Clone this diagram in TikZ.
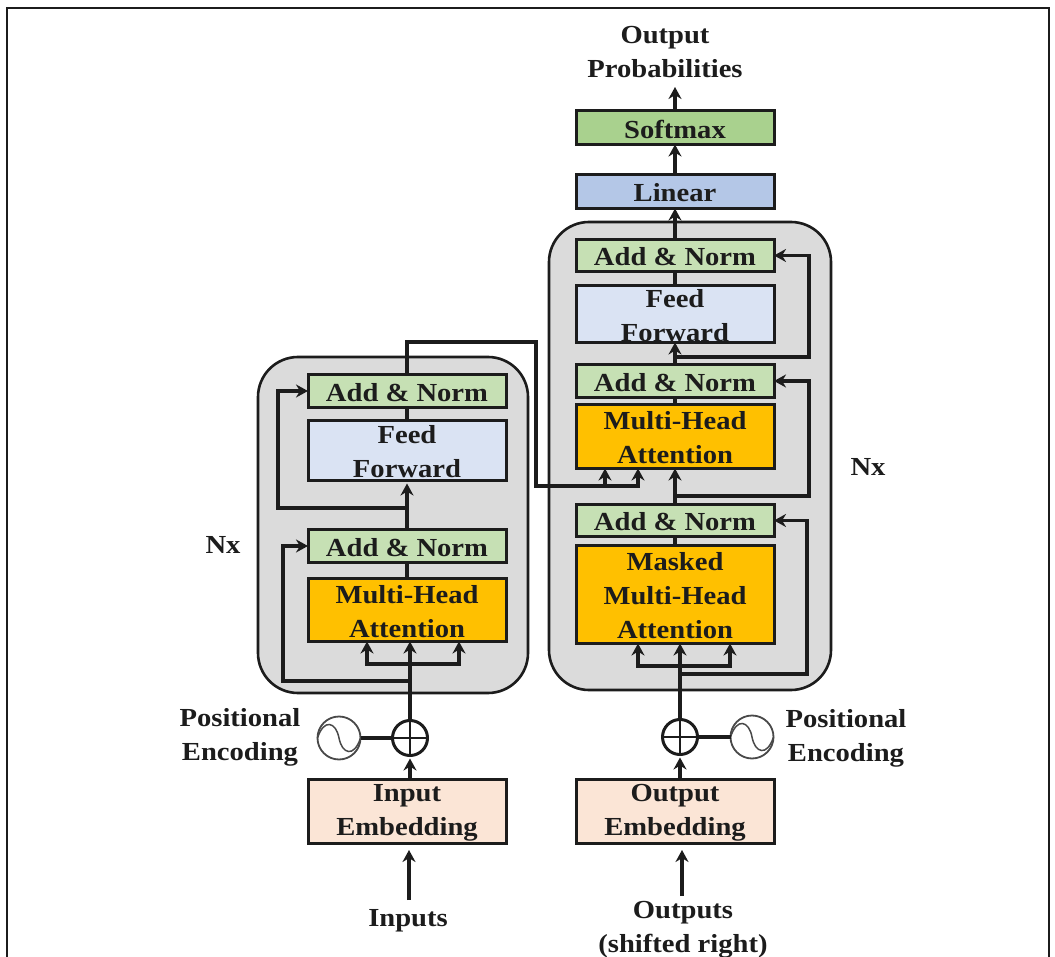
\documentclass[tikz,border=0pt]{standalone}
\usepackage{fontspec}
\setmainfont[FakeStretch=1.1]{Liberation Serif}
\usetikzlibrary{arrows.meta,calc}
\definecolor{cgray}{HTML}{DBDBDB}
\definecolor{cgreen}{HTML}{C6E0B4}
\definecolor{cblue}{HTML}{DAE3F3}
\definecolor{corange}{HTML}{FFC000}
\definecolor{cpeach}{HTML}{FBE5D6}
\definecolor{csoft}{HTML}{A9D18E}
\definecolor{clin}{HTML}{B4C7E7}
\definecolor{cink}{HTML}{1C1C1C}
\tikzset{
  x=1pt,y=-1pt,
  lbl/.style={font=\fontsize{26}{34}\selectfont\bfseries,text=cink,align=center,inner sep=0pt},
  panel/.style={draw=cink,line width=2.6pt,fill=cgray,rounded corners=40pt},
  blockbox/.style={draw=cink,line width=3pt,minimum width=198pt,anchor=north west,inner sep=0pt,outer sep=0pt},
  wire/.style={draw=cink,line width=3.05pt},
  arr/.style={wire,-{Stealth[length=12pt,width=13pt]}},
  thin circle/.style={draw=cink!80,line width=1.8pt,circle,inner sep=0pt,outer sep=0pt,minimum size=43pt},
  plus circle/.style={draw=cink,line width=3pt,circle,inner sep=0pt,outer sep=0pt,minimum size=35pt}
}
\newcommand{\blk}[6]{\node[blockbox,fill=#2,minimum height=#5pt] (#1) at (#3,#4) {};
  \node[lbl,yshift=-1.5pt] (#1t) at (#1.center) {#6};}
\newcommand{\dn}[1]{\raisebox{-3pt}{#1}}
\begin{document}
\begin{tikzpicture}
\useasboundingbox (0,0) rectangle (1055,957);
\fill[white] (0,0) rectangle (1055,957);
\draw[line width=2pt,draw=cink] (7,957) -- (7,8) -- (1049,8) -- (1049,957);
% panels
\draw[panel] (258,357) rectangle (528,693);
\draw[panel] (549,222) rectangle (831,690);
% encoder blocks
\blk{eanb}{cgreen}{308}{374.5}{33}{Add \& Norm}
\blk{eff}{cblue}{308}{420.5}{60}{Feed\\Forward}
\blk{eana}{cgreen}{308}{529.5}{33}{Add \& Norm}
\blk{emha}{corange}{308}{578.5}{63}{Multi-Head\\Attention}
\blk{einp}{cpeach}{308}{779.5}{64}{\dn{Input}\\\dn{Embedding}}
% decoder blocks
\blk{soft}{csoft}{576}{110.5}{34}{Softmax}
\blk{lin}{clin}{576}{174.5}{34}{Linear}
\blk{danc}{cgreen}{576}{239.5}{32}{Add \& Norm}
\blk{dff}{cblue}{576}{285.5}{57}{Feed\\Forward}
\blk{danb}{cgreen}{576}{364.5}{33}{Add \& Norm}
\blk{dmha}{corange}{576}{404.5}{64}{Multi-Head\\Attention}
\blk{dana}{cgreen}{576}{504.5}{32}{Add \& Norm}
\blk{dmask}{corange}{576}{545.5}{98}{Masked\\Multi-Head\\Attention}
\blk{doutp}{cpeach}{576}{779.5}{64}{\dn{Output}\\\dn{Embedding}}
% circles
\node[plus circle] (eplus) at (410,738) {};
\node[thin circle] (esin) at (339,738) {};
\node[plus circle] (dplus) at (680,737) {};
\node[thin circle] (dsin) at (752,737) {};
\draw[cink,line width=2pt] (eplus.north) -- (eplus.south) (eplus.west) -- (eplus.east);
\draw[cink,line width=2pt] (dplus.north) -- (dplus.south) (dplus.west) -- (dplus.east);
\draw[cink!80,line width=1.5pt] (esin.west) .. controls (324,718) and (336,722) .. (esin.center) .. controls (342,754) and (354,758) .. (esin.east);
\draw[cink!80,line width=1.5pt] (dsin.west) .. controls (737,717) and (749,721) .. (dsin.center) .. controls (755,753) and (767,757) .. (dsin.east);
% labels
\node[lbl] (lout) at (665,52) {Output\\Probabilities};
\node[lbl] (lnxr) at (868,467) {Nx};
\node[lbl] (lnxl) at (223,545) {Nx};
\node[lbl] (lpel) at (240,737) {Positional\\Encoding};
\node[lbl] (lper) at (846,738) {Positional\\Encoding};
\node[lbl] (linp) at (408,921) {Inputs};
\node[lbl] (loutp) at (683,930) {Outputs\\(shifted right)};
% free-end coordinates
\coordinate (tipsoft) at (675,87);
\coordinate (einpt) at (409,850);
\coordinate (doutpt) at (682,850);
\coordinate (inb) at (409,900);
\coordinate (outb) at (682,896);
% encoder wires
\draw[arr] (inb) -- (einpt);
\draw[arr] (einp.north -| eplus) -- ($(eplus.south)+(0,3)$);
\draw[wire] (esin.east) -- (eplus.west);
\draw[arr] (eplus.north) -- (eplus.north |- emha.south);
\coordinate (ebl) at (367,664); \coordinate (ebr) at (459,664);
\draw[arr] (ebl -| eplus) -- (ebl) -- (ebl |- emha.south);
\draw[arr] (ebr -| eplus) -- (ebr) -- (ebr |- emha.south);
\coordinate (eskipa) at (283,681);
\draw[arr] (eskipa -| eplus) -- (eskipa) -- (eskipa |- eana.west) -- (eana.west);
\draw[wire] (emha.north) -- (eana.south);
\draw[arr] (eana.north) -- ($(eff.south)+(0,3)$);
\coordinate (eskipb) at (278,508);
\draw[arr] (eskipb -| eana) -- (eskipb) -- (eskipb |- eanb.west) -- (eanb.west);
\draw[wire] (eff.north) -- (eanb.south);
\coordinate (crossa) at (536,342); \coordinate (crossb) at (536,486);
\coordinate (cta) at (605,486); \coordinate (ctb) at (638,486);
\draw[arr] (eanb.north) -- (eanb.north |- crossa) -- (crossa) -- (crossb) -- (ctb) -- (ctb |- dmha.south);
\draw[arr] (cta) -- (cta |- dmha.south);
% decoder wires
\draw[arr] (outb) -- (doutpt);
\draw[arr] (doutp.north -| dplus) -- ($(dplus.south)+(0,3)$);
\draw[wire] (dsin.west) -- (dplus.east);
\draw[arr] (dplus.north) -- (dplus.north |- dmask.south);
\coordinate (dbl) at (638,666); \coordinate (dbr) at (730,666);
\draw[arr] (dbl -| dplus) -- (dbl) -- (dbl |- dmask.south);
\draw[arr] (dbr -| dplus) -- (dbr) -- (dbr |- dmask.south);
\coordinate (dska) at (807,674);
\draw[arr] (dska -| dplus) -- (dska) -- (dska |- dana.east) -- (dana.east);
\draw[wire] (dmask.north) -- (dana.south);
\draw[arr] (dana.north) -- (dmha.south);
\coordinate (dskb) at (809,496);
\draw[arr] (dskb -| dana) -- (dskb) -- (dskb |- danb.east) -- (danb.east);
\draw[wire] (dmha.north) -- (danb.south);
\draw[arr] (danb.north) -- (dff.south);
\coordinate (dskc) at (809,357);
\draw[arr] (dskc -| danb) -- (dskc) -- (dskc |- danc.east) -- (danc.east);
\draw[wire] (dff.north) -- (danc.south);
\draw[arr] (danc.north) -- (lin.south);
\draw[arr] (lin.north) -- (soft.south);
\draw[arr] (soft.north) -- (tipsoft);
\end{tikzpicture}
\end{document}
